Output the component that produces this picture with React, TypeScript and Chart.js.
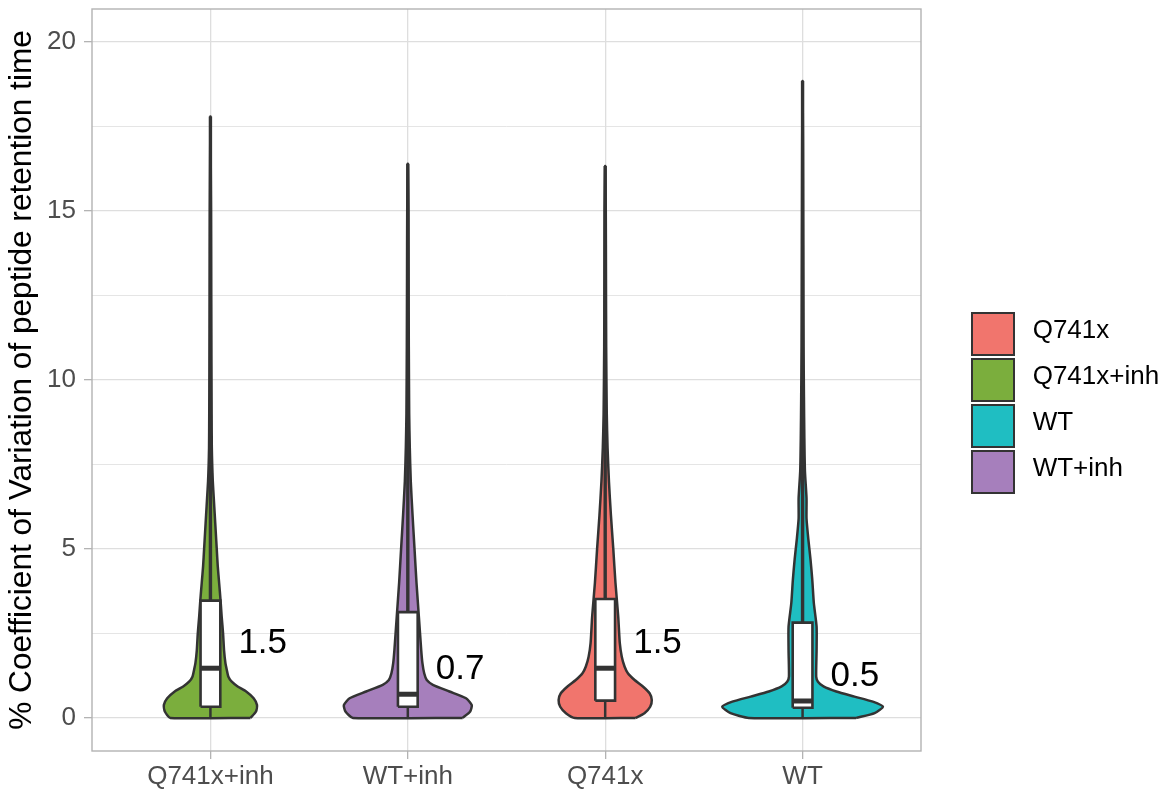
import React, { useEffect, useRef } from "react";
import { Chart, registerables } from "chart.js";

Chart.register(...registerables);

const FONT = "'Liberation Sans', Arial, Helvetica, sans-serif";

// ---- categories & colours ----
const CATEGORIES = ["Q741x+inh", "WT+inh", "Q741x", "WT"];
const FILL_COLORS = ["#7BAE3D", "#A67FBC", "#F1756D", "#1FBEC2"];
const LEGEND_LABELS = ["Q741x", "Q741x+inh", "WT", "WT+inh"];
const LEGEND_COLORS = ["#F1756D", "#7BAE3D", "#1FBEC2", "#A67FBC"];

// ---- y axis ticks ----
const Y_TICKS = [0, 2.5, 5, 7.5, 10, 12.5, 15, 17.5, 20];
const Y_LABELED = [0, 5, 10, 15, 20];
const Y_TITLE = "% Coefficient of Variation of peptide retention time";

// ---- violin density profiles (value, half-width in category units) ----
const Q741X_INH_Y = [0, 0.19, 0.38, 0.58, 0.78, 0.93, 1.07, 1.22, 1.42, 1.62, 2.0, 2.5, 3.0, 3.5, 4.0, 4.5, 5.0, 5.5, 6.0, 6.5, 7.0, 7.5, 8.0, 9.0, 10.5, 12.5, 15.0, 17.8];
const Q741X_INH_W = [0.203, 0.231, 0.236, 0.219, 0.181, 0.138, 0.108, 0.091, 0.083, 0.076, 0.069, 0.064, 0.057, 0.051, 0.044, 0.037, 0.032, 0.027, 0.022, 0.017, 0.012, 0.009, 0.007, 0.006, 0.005, 0.004, 0.003, 0];

const WT_INH_Y = [0, 0.19, 0.38, 0.58, 0.78, 0.98, 1.12, 1.32, 1.62, 2.0, 3.0, 4.0, 5.0, 6.0, 7.0, 8.0, 9.0, 11.0, 13.0, 15.0, 16.4];
const WT_INH_W = [0.278, 0.316, 0.324, 0.295, 0.211, 0.127, 0.096, 0.083, 0.074, 0.068, 0.056, 0.044, 0.034, 0.024, 0.015, 0.01, 0.007, 0.005, 0.004, 0.003, 0];

const Q741X_Y = [0, 0.14, 0.33, 0.53, 0.73, 0.93, 1.12, 1.32, 1.52, 1.81, 2.21, 3.0, 4.0, 5.0, 6.0, 7.0, 8.0, 9.0, 11.0, 13.0, 15.0, 16.33];
const Q741X_W = [0.154, 0.199, 0.228, 0.236, 0.225, 0.191, 0.149, 0.115, 0.098, 0.084, 0.074, 0.066, 0.052, 0.041, 0.029, 0.019, 0.012, 0.008, 0.005, 0.004, 0.003, 0];

const WT_Y = [0, 0.14, 0.33, 0.48, 0.63, 0.78, 0.93, 1.07, 1.22, 2.0, 2.7, 3.4, 4.1, 4.7, 5.3, 5.9, 6.5, 7.3, 8.3, 9.5, 11.0, 13.0, 15.0, 17.0, 18.85];
const WT_W = [0.272, 0.365, 0.407, 0.356, 0.263, 0.171, 0.106, 0.078, 0.069, 0.071, 0.071, 0.057, 0.049, 0.04, 0.029, 0.02, 0.02, 0.012, 0.009, 0.007, 0.005, 0.004, 0.003, 0.002, 0];

const PROFILE_Y = [Q741X_INH_Y, WT_INH_Y, Q741X_Y, WT_Y];
const PROFILE_W = [Q741X_INH_W, WT_INH_W, Q741X_W, WT_W];

// ---- box-plot statistics ----
const MINS = [0, 0, 0, 0];
const Q1S = [0.33, 0.33, 0.51, 0.3];
const MEDIANS = [1.47, 0.7, 1.47, 0.5];
const Q3S = [3.47, 3.13, 3.52, 2.82];
const MAXS = [17.8, 16.4, 16.33, 18.85];
const MEDIAN_LABELS = ["1.5", "0.7", "1.5", "0.5"];

// style constants
const BOX_HALF = 0.05;
const LABEL_DX = 0.265;
const LABEL_DY_PX = 25;
const OUTLINE = "#333333";

const medianLabelPlugin = {
  id: "medianLabels",
  afterDatasetsDraw(chart: any) {
    const { ctx, scales } = chart;
    const x = scales.x;
    const y = scales.y;
    ctx.save();
    ctx.font = `35px ${FONT}`;
    ctx.fillStyle = "#000000";
    ctx.textAlign = "center";
    ctx.textBaseline = "middle";
    MEDIAN_LABELS.forEach((t, i) => {
      ctx.fillText(t, x.getPixelForValue(i + 1 + LABEL_DX), y.getPixelForValue(MEDIANS[i]) - LABEL_DY_PX);
    });
    ctx.restore();
  },
};

const panelBorderPlugin = {
  id: "panelBorder",
  afterDraw(chart: any) {
    const { ctx, chartArea } = chart;
    ctx.save();
    ctx.strokeStyle = "#B3B3B3";
    ctx.lineWidth = 1.4;
    ctx.strokeRect(chartArea.left, chartArea.top, chartArea.right - chartArea.left, chartArea.bottom - chartArea.top);
    ctx.restore();
  },
};

export default function App() {
  const ref = useRef<HTMLCanvasElement>(null);

  useEffect(() => {
    if (!ref.current) return;
    Chart.defaults.font.family = FONT;
    const datasets: any[] = [];
    CATEGORIES.forEach((cat, i) => {
      const c = i + 1;
      const ys = PROFILE_Y[i];
      const ws = PROFILE_W[i];
      const right = ys.map((v, k) => ({ x: c + ws[k], y: v }));
      const left = ys.map((v, k) => ({ x: c - ws[k], y: v })).reverse();
      const violin = [...right, ...left, right[0]];
      datasets.push({
        label: cat + " violin",
        data: violin,
        borderColor: OUTLINE,
        borderWidth: 2.5,
        borderJoinStyle: "round",
        backgroundColor: FILL_COLORS[i],
        fill: "shape",
        pointRadius: 0,
        tension: 0.2,
        order: 4,
      });
      datasets.push({
        label: cat + " upper whisker",
        data: [
          { x: c, y: Q3S[i] },
          { x: c, y: MAXS[i] },
        ],
        borderColor: OUTLINE,
        borderWidth: 3.4,
        pointRadius: 0,
        fill: false,
        order: 3,
      });
      datasets.push({
        label: cat + " lower whisker",
        data: [
          { x: c, y: MINS[i] },
          { x: c, y: Q1S[i] },
        ],
        borderColor: OUTLINE,
        borderWidth: 2.5,
        pointRadius: 0,
        fill: false,
        order: 3,
      });
      datasets.push({
        label: cat + " box",
        data: [
          { x: c - BOX_HALF, y: Q1S[i] },
          { x: c + BOX_HALF, y: Q1S[i] },
          { x: c + BOX_HALF, y: Q3S[i] },
          { x: c - BOX_HALF, y: Q3S[i] },
          { x: c - BOX_HALF, y: Q1S[i] },
        ],
        borderColor: OUTLINE,
        borderWidth: 2.6,
        borderJoinStyle: "miter",
        backgroundColor: "#FFFFFF",
        fill: "shape",
        pointRadius: 0,
        order: 2,
      });
      datasets.push({
        label: cat + " median",
        data: [
          { x: c - BOX_HALF, y: MEDIANS[i] },
          { x: c + BOX_HALF, y: MEDIANS[i] },
        ],
        borderColor: OUTLINE,
        borderWidth: 5,
        borderCapStyle: "butt",
        pointRadius: 0,
        fill: false,
        order: 1,
      });
    });

    const isMajor = (v: number) => Y_LABELED.includes(v);

    const chart = new Chart(ref.current, {
      type: "line",
      data: { datasets },
      plugins: [medianLabelPlugin, panelBorderPlugin],
      options: {
        responsive: false,
        animation: false,
        layout: { padding: { top: 9, right: 249, left: 0, bottom: 0 }, autoPadding: false } as any,
        plugins: {
          legend: { display: false },
          tooltip: { enabled: false },
        },
        scales: {
          x: {
            type: "linear",
            min: 0.4,
            max: 4.6,
            afterBuildTicks: (s: any) => {
              s.ticks = CATEGORIES.map((_, i) => ({ value: i + 1 }));
            },
            afterFit: (s: any) => {
              s.height = 46;
              s.paddingLeft = 0;
              s.paddingRight = 0;
            },
            ticks: {
              callback: (v: any) => CATEGORIES[Math.round(Number(v)) - 1] ?? "",
              color: "#4D4D4D",
              font: { size: 26, family: FONT },
              padding: 2,
              maxRotation: 0,
              minRotation: 0,
              autoSkip: false,
            },
            grid: {
              color: "#DEDEDE",
              lineWidth: 1.3,
              tickColor: "#B3B3B3",
              tickLength: 8,
              tickWidth: 1.3,
            },
            border: { display: false },
          },
          y: {
            type: "linear",
            min: -0.98,
            max: 20.98,
            afterBuildTicks: (s: any) => {
              s.ticks = Y_TICKS.map((v) => ({ value: v }));
            },
            afterFit: (s: any) => {
              s.width = 92;
              s.paddingTop = 0;
              s.paddingBottom = 0;
            },
            ticks: {
              callback: (v: any) => (isMajor(Number(v)) ? String(v) : ""),
              color: "#4D4D4D",
              font: { size: 26, family: FONT },
              padding: 8,
            },
            grid: {
              color: "#DEDEDE",
              lineWidth: (ctx: any) => (ctx.tick && isMajor(ctx.tick.value) ? 1.3 : 0.8),
              tickColor: (ctx: any) => (ctx.tick && isMajor(ctx.tick.value) ? "#B3B3B3" : "rgba(0,0,0,0)"),
              tickLength: 8,
              tickWidth: 1.3,
            },
            border: { display: false },
            title: {
              display: true,
              text: Y_TITLE,
              color: "#000000",
              font: { size: 31.6, family: FONT },
              padding: { top: 3, bottom: 0 },
            },
          },
        },
      } as any,
    });
    return () => chart.destroy();
  }, []);

  return (
    <div style={{ position: "fixed", left: 0, top: 0, width: 1170, height: 797, background: "#FFFFFF" }}>
      <canvas ref={ref} width={1170} height={797} style={{ position: "absolute", left: 0, top: 0 }} />
      {LEGEND_LABELS.map((lab, i) => (
        <React.Fragment key={lab}>
          <div
            style={{
              position: "absolute",
              left: 971,
              top: 311.7 + i * 46.1,
              width: 44,
              height: 44,
              boxSizing: "border-box",
              border: "2.5px solid #333333",
              background: LEGEND_COLORS[i],
            }}
          />
          <div
            style={{
              position: "absolute",
              left: 1032.7,
              top: 313.7 + i * 46.1,
              height: 44,
              lineHeight: "44px",
              font: `26px ${FONT}`,
              color: "#000000",
              whiteSpace: "nowrap",
            }}
          >
            {lab}
          </div>
        </React.Fragment>
      ))}
    </div>
  );
}
